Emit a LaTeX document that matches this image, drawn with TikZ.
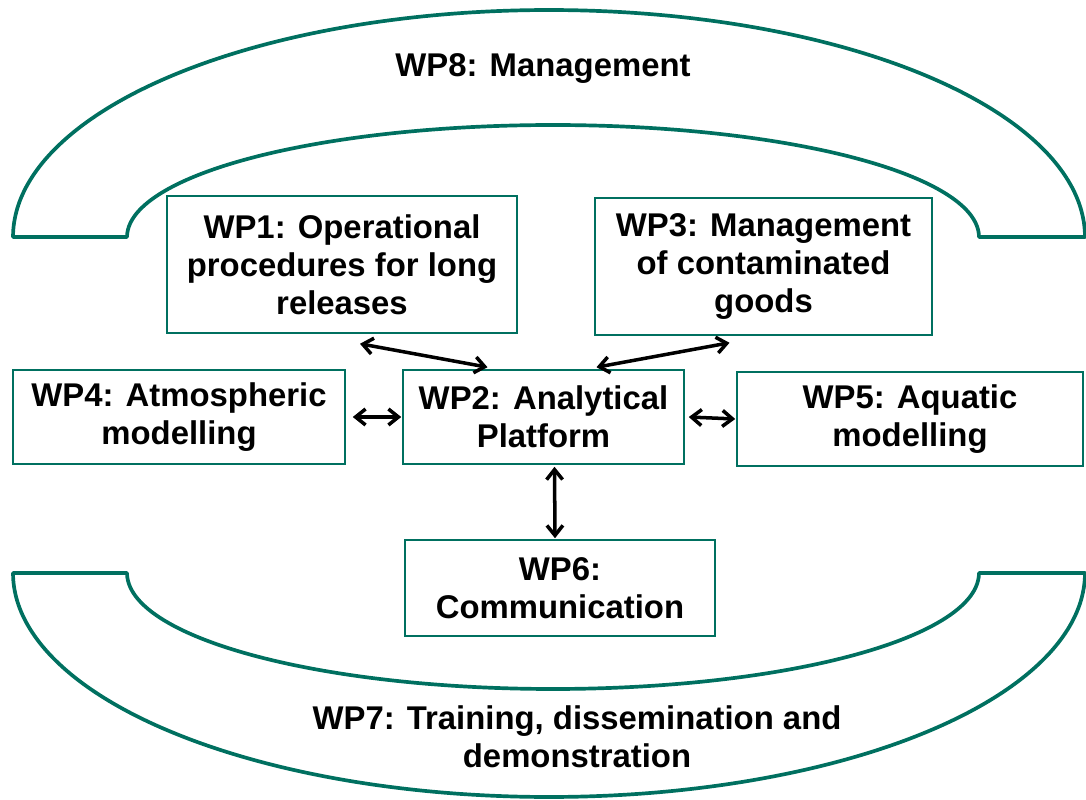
\documentclass[tikz,border=0pt]{standalone}
\usepackage{fontspec}
\setmainfont{Liberation Sans}
\usetikzlibrary{arrows.meta}
\definecolor{wpgreen}{RGB}{0,112,96}
\newcommand\wpfont{\fontsize{18.7}{21.6}\selectfont\bfseries}

\begin{document}
\begin{tikzpicture}[x=0.02cm,y=0.02cm,samples=100,smooth,
        arch/.style={draw=wpgreen,line width=2.1pt,line join=round},
        wpbox/.style={draw=wpgreen,line width=0.9pt,align=center,inner sep=0pt,font=\wpfont},
        link/.style={{Straight Barb[length=0.2cm,width=0.32cm]}-{Straight Barb[length=0.2cm,width=0.32cm]},line width=2pt}]
        \useasboundingbox (0,0) rectangle (1086,799);
        \draw[arch] (13,562) -- (127,562) -- plot[domain=180:0] ({553+426*cos(\x)},{562+112*sin(\x)}) -- (1085,562) -- plot[domain=0:180] ({549+536*cos(\x)},{562+227*sin(\x)}) -- cycle;
        \draw[arch] (13,226) -- (127,226) -- plot[domain=180:360] ({553+426*cos(\x)},{226+116*sin(\x)}) -- (1085,226) -- plot[domain=360:180] ({549+536*cos(\x)},{226+224*sin(\x)}) -- cycle;
        \node[font=\wpfont] (wp8) at (543,730) {WP8: Management};
        \node[font=\wpfont,align=center] (wp7) at (577,62) {WP7: Training, dissemination and\\demonstration};
        \node[wpbox,minimum width=7cm,minimum height=2.74cm] (wp1) at (342,534.5) {WP1: Operational\\procedures for long\\releases};
        \node[wpbox,minimum width=6.74cm,minimum height=2.74cm] (wp3) at (763.5,532.5) {WP3: Management\\of contaminated\\goods};
        \node[wpbox,minimum width=6.64cm,minimum height=1.88cm] (wp4) at (179,382) {WP4: Atmospheric\\modelling};
        \node[wpbox,minimum width=5.62cm,minimum height=1.88cm] (wp2) at (543.5,382) {WP2: Analytical\\Platform};
        \node[wpbox,minimum width=6.92cm,minimum height=1.88cm] (wp5) at (910,380) {WP5: Aquatic\\modelling};
        \node[wpbox,minimum width=6.2cm,minimum height=1.92cm] (wp6) at (560,211) {WP6:\\Communication};
        \draw[link] ([shift={(18,-10)}]wp1.south) -- ([shift={(-56,2)}]wp2.north);
        \draw[link] ([shift={(-34,-7)}]wp3.south) -- ([shift={(53,2)}]wp2.north);
        \draw[link] ([shift={(7,0)}]wp4.east) -- ([shift={(-1,0)}]wp2.west);
        \draw[link] ([shift={(4,0)}]wp2.east) -- ([shift={(-1,0)}]wp5.west);
        \draw[link] ([shift={(11,-2)}]wp2.south) -- ([shift={(-5,1)}]wp6.north);
    \end{tikzpicture}
\end{document}
